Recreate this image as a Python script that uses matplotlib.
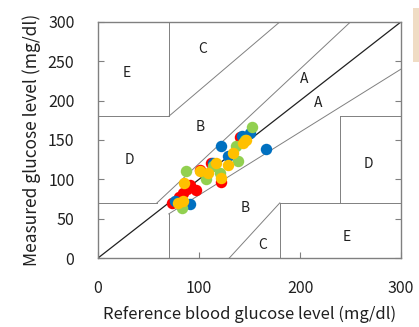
import matplotlib.pyplot as plt
from matplotlib.patches import Rectangle

plt.rcParams['font.family'] = ['Noto Sans CJK JP', 'DejaVu Sans']

# Measured points (reference, measured) per sensor series
red_x = [73, 84, 97, 91, 101, 122, 141, 112, 80, 88]
red_y = [70, 83, 86, 93, 112, 97, 154, 121, 78, 88]
blue_x = [122, 166, 91, 143, 150, 129, 114, 76]
blue_y = [142, 138, 68, 155, 159, 129, 121, 72]
green_x = [152, 87, 107, 137, 139, 121, 83, 114, 146]
green_y = [167, 111, 100, 142, 123, 108, 64, 117, 150]
yellow_x = [85, 101, 117, 129, 134, 144, 147, 122, 84, 79, 109]
yellow_y = [95, 110, 121, 118, 133, 146, 150, 102, 72, 70, 108]

series_colors = {'red': '#FF0000', 'blue': '#0070C0', 'green': '#92D050', 'yellow': '#FFC000'}

# Clarke error grid zone boundaries
zone_lines = [
    ([0, 58.3], [70, 70]),
    ([58.3, 250], [70, 300]),
    ([70, 300], [56, 240]),
    ([70, 70], [0, 56]),
    ([70, 70], [180, 300]),
    ([0, 70], [180, 180]),
    ([70, 180], [180, 300]),
    ([130, 180], [0, 70]),
    ([180, 180], [0, 70]),
    ([180, 300], [70, 70]),
    ([240, 240], [70, 180]),
    ([240, 300], [180, 180]),
]
zone_labels = [('A', 204, 227), ('A', 218, 197), ('B', 101, 167), ('B', 146, 63),
               ('C', 104, 265), ('C', 163, 16), ('D', 31, 125), ('D', 268, 119),
               ('E', 28, 235), ('E', 246, 27)]

fig = plt.figure(figsize=(4.19, 3.27), dpi=100)
ax = fig.add_axes([0.234, 0.211, 0.723, 0.722])

for xs, ys in zone_lines:
    ax.plot(xs, ys, color='#808080', linewidth=0.7)
ax.plot([0, 300], [0, 300], color='#202020', linewidth=0.9)

for lbl, x, y in zone_labels:
    ax.text(x, y, lbl, ha='center', va='center', fontsize=10, color='#202020')

ax.scatter(red_x, red_y, s=68, color=series_colors['red'], linewidths=0, zorder=3)
ax.scatter(blue_x, blue_y, s=68, color=series_colors['blue'], linewidths=0, zorder=3)
ax.scatter(green_x, green_y, s=68, color=series_colors['green'], linewidths=0, zorder=3)
ax.scatter(yellow_x, yellow_y, s=68, color=series_colors['yellow'], linewidths=0, zorder=3)

ax.set_xlim(0, 300)
ax.set_ylim(0, 300)
ax.set_xticks([0, 100, 200, 300])
ax.set_yticks([0, 50, 100, 150, 200, 250, 300])
ax.tick_params(direction='in', length=4, color='#808080', labelsize=11.5,
               labelcolor='#202020', right=True)
ax.tick_params(axis='y', pad=17)
ax.tick_params(axis='x', pad=16)
for sp in ax.spines.values():
    sp.set_color('#808080')
    sp.set_linewidth(1.0)

ax.set_xlabel('Reference blood glucose level (mg/dl)', fontsize=12, color='#202020', labelpad=6)
ax.set_ylabel('Measured glucose level (mg/dl)', fontsize=12.5, color='#202020', labelpad=5)

# cropped tan box at the right edge of the source image
fig.patches.append(Rectangle((413 / 419, 1 - 62 / 327), 0.02, 54 / 327,
                             transform=fig.transFigure, facecolor='#F0DCC4', edgecolor='none'))

fig.savefig('out.png', dpi=100)
